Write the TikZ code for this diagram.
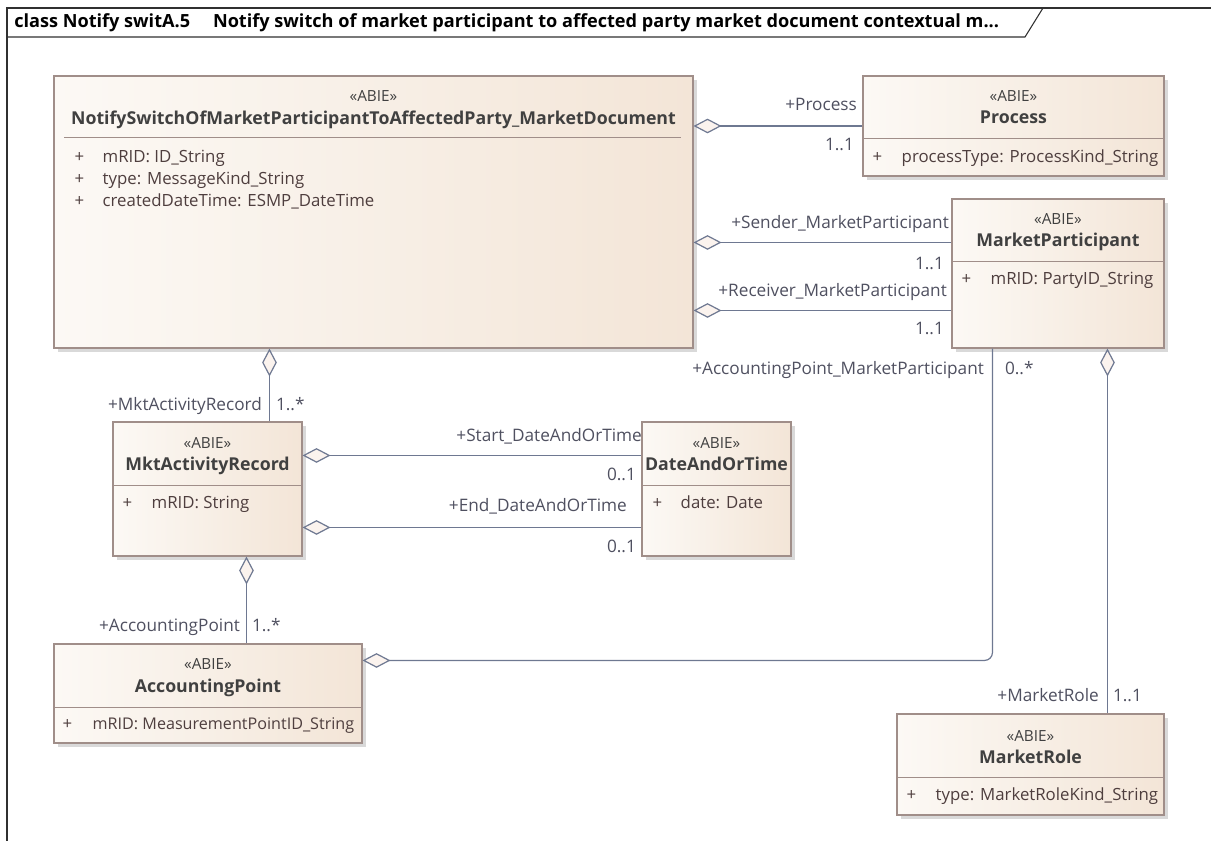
\documentclass[tikz,border=0pt]{standalone}
\usepackage{fontspec}
\setmainfont{Open Sans}
\usepackage{xcolor}
\usepackage{tikz}
\usetikzlibrary{positioning,fit,calc,arrows.meta,shadows}
\definecolor{clsL}{HTML}{FCF9F5}
\definecolor{clsR}{HTML}{F3E5D7}
\definecolor{clsline}{HTML}{A08E89}
\definecolor{linkcol}{HTML}{6E7891}
\definecolor{diafill}{HTML}{FBF3EE}
\definecolor{namecol}{HTML}{404040}
\definecolor{attrcol}{HTML}{4E3E3E}
\definecolor{lblcol}{HTML}{4F5060}
\definecolor{framecol}{HTML}{303030}

\begin{document}
\begin{tikzpicture}[x=0.75pt,y=-0.75pt,
      every node/.style={inner sep=0pt},
      cls/.style={draw=clsline,line width=0.8pt,left color=clsL,right color=clsR,
        drop shadow={shadow xshift=3pt,shadow yshift=-3pt,fill=black!25,opacity=0.6}},
      stereo/.style={anchor=base,font=\fontsize{11.5}{13}\selectfont,text=namecol},
      cname/.style={anchor=base,font=\fontsize{13.3}{15}\selectfont\bfseries,text=namecol},
      attr/.style={anchor=base west,font=\fontsize{12.6}{15}\selectfont,text=attrcol},
      sepline/.style={draw=clsline,line width=0.8pt},
      role/.style={font=\fontsize{12.9}{15}\selectfont,text=lblcol},
      assoc/.style={draw=linkcol,line width=0.9pt,
        {Diamond[length=21pt,width=11pt,fill=diafill]}-},
      frame/.style={draw=framecol,line width=0.8pt},
    ]
  \useasboundingbox (0,0) rectangle (1211,841);

  % diagram frame and header tab
  \draw[frame] (7,845) -- (7,8) -- (1215,8);
  \draw[frame] (7,37) -- (1025,37) -- (1043,8);
  \node[anchor=base west,font=\fontsize{13.6}{15}\selectfont\bfseries,text=black] (hdr) at (14,28)
    {class Notify switA.5\quad\ Notify switch of market participant to affected party market document contextual m...};

  % classes
  \node[cls,fit={(54,76) (693,348)}] (main) {};
  \node[stereo] (mainS) at ($(main.north)+(0,26)$) {«ABIE»};
  \node[cname] (mainN) at ($(main.north)+(0,49)$) {NotifySwitchOfMarketParticipantToAffectedParty\_MarketDocument};
  \draw[sepline] ($(main.north west)+(11,62)$) -- ($(main.north east)+(-13,62)$);
  \node[attr] (mainP1) at ($(main.north west)+(21,87)$) {+};
  \node[attr] (mainA1) at ($(main.north west)+(49,87)$) {mRID: ID\_String};
  \node[attr] (mainP2) at ($(main.north west)+(21,109)$) {+};
  \node[attr] (mainA2) at ($(main.north west)+(49,109)$) {type: MessageKind\_String};
  \node[attr] (mainP3) at ($(main.north west)+(21,131)$) {+};
  \node[attr] (mainA3) at ($(main.north west)+(49,131)$) {createdDateTime: ESMP\_DateTime};

  \node[cls,fit={(863,76) (1164,176)}] (proc) {};
  \node[stereo] (procS) at ($(proc.north)+(0,26)$) {«ABIE»};
  \node[cname] (procN) at ($(proc.north)+(0,48)$) {Process};
  \draw[sepline] ($(proc.north west)+(0,63)$) -- ($(proc.north east)+(0,63)$);
  \node[attr] (procP1) at ($(proc.north west)+(10,87)$) {+};
  \node[attr] (procA1) at ($(proc.north west)+(39,87)$) {processType: ProcessKind\_String};

  \node[cls,fit={(952,199) (1164,348)}] (mp) {};
  \node[stereo] (mpS) at ($(mp.north)+(0,26)$) {«ABIE»};
  \node[cname] (mpN) at ($(mp.north)+(0,48)$) {MarketParticipant};
  \draw[sepline] ($(mp.north west)+(0,63)$) -- ($(mp.north east)+(0,63)$);
  \node[attr] (mpP1) at ($(mp.north west)+(10,86)$) {+};
  \node[attr] (mpA1) at ($(mp.north west)+(39,86)$) {mRID: PartyID\_String};

  \node[cls,fit={(113,422) (302,556)}] (mar) {};
  \node[stereo] (marS) at ($(mar.north)+(0,27)$) {«ABIE»};
  \node[cname] (marN) at ($(mar.north)+(0,49)$) {MktActivityRecord};
  \draw[sepline] ($(mar.north west)+(0,64)$) -- ($(mar.north east)+(0,64)$);
  \node[attr] (marP1) at ($(mar.north west)+(10,87)$) {+};
  \node[attr] (marA1) at ($(mar.north west)+(39,87)$) {mRID: String};

  \node[cls,fit={(642,422) (791,556)}] (dt) {};
  \node[stereo] (dtS) at ($(dt.north)+(0,27)$) {«ABIE»};
  \node[cname] (dtN) at ($(dt.north)+(0,49)$) {DateAndOrTime};
  \draw[sepline] ($(dt.north west)+(0,64)$) -- ($(dt.north east)+(0,64)$);
  \node[attr] (dtP1) at ($(dt.north west)+(11,87)$) {+};
  \node[attr] (dtA1) at ($(dt.north west)+(39,87)$) {date: Date};

  \node[cls,fit={(54,644) (362,743)}] (ap) {};
  \node[stereo] (apS) at ($(ap.north)+(0,26)$) {«ABIE»};
  \node[cname] (apN) at ($(ap.north)+(0,49)$) {AccountingPoint};
  \draw[sepline] ($(ap.north west)+(0,64)$) -- ($(ap.north east)+(0,64)$);
  \node[attr] (apP1) at ($(ap.north west)+(9,86)$) {+};
  \node[attr,font=\fontsize{12.1}{15}\selectfont] (apA1) at ($(ap.north west)+(39,86)$) {mRID: MeasurementPointID\_String};

  \node[cls,fit={(897,714) (1164,815)}] (mr) {};
  \node[stereo] (mrS) at ($(mr.north)+(0,28)$) {«ABIE»};
  \node[cname] (mrN) at ($(mr.north)+(0,50)$) {MarketRole};
  \draw[sepline] ($(mr.north west)+(0,64)$) -- ($(mr.north east)+(0,64)$);
  \node[attr] (mrP1) at ($(mr.north west)+(10,87)$) {+};
  \node[attr] (mrA1) at ($(mr.north west)+(39,87)$) {type: MarketRoleKind\_String};

  % aggregations, diamond on the owning class
  \draw[assoc] (main.east |- proc.west) -- (proc.west)
    node (lProc) [role,pos=1,anchor=base east,shift={(-5,-15)}] {+Process}
    node (mProc) [role,pos=1,anchor=base east,shift={(-8,25)}] {1..1};
  \draw[assoc] ($(main.east |- mp.north)+(0,44)$) -- ($(mp.north west)+(0,44)$)
    node (lSnd) [role,pos=1,anchor=base east,shift={(-2,-14)}] {+Sender\_MarketParticipant}
    node (mSnd) [role,pos=1,anchor=base east,shift={(-7,27)}] {1..1};
  \draw[assoc] ($(main.east |- mp.north)+(0,112)$) -- ($(mp.north west)+(0,112)$)
    node (lRcv) [role,pos=1,anchor=base east,shift={(-4,-14)}] {+Receiver\_MarketParticipant}
    node (mRcv) [role,pos=1,anchor=base east,shift={(-7,24)}] {1..1};
  \draw[assoc] ($(main.south west)+(216,0)$) -- ($(mar.north west)+(157,0)$)
    node (lMar) [role,pos=1,anchor=base east,shift={(-7,-11)}] {+MktActivityRecord}
    node (mMar) [role,pos=1,anchor=base west,shift={(6,-11)}] {1..*};
  \draw[assoc] ($(mar.north east)+(0,34)$) -- ($(dt.north west)+(0,34)$)
    node (lStart) [role,pos=1,anchor=base east,shift={(1,-14)}] {+Start\_DateAndOrTime}
    node (mStart) [role,pos=1,anchor=base east,shift={(-5,25)}] {0..1};
  \draw[assoc] ($(mar.north east)+(0,106)$) -- ($(dt.north west)+(0,106)$)
    node (lEnd) [role,pos=1,anchor=base east,shift={(-14,-16)}] {+End\_DateAndOrTime}
    node (mEnd) [role,pos=1,anchor=base east,shift={(-5,25)}] {0..1};
  \draw[assoc] ($(mar.south west)+(134,0)$) -- ($(ap.north west)+(193,0)$)
    node (lAp) [role,pos=1,anchor=base east,shift={(-6,-12)}] {+AccountingPoint}
    node (mAp) [role,pos=1,anchor=base west,shift={(5,-12)}] {1..*};
  \draw[assoc,rounded corners=6pt] ($(ap.north east)+(0,17)$) -| ($(mp.south west)+(41,0)$)
    node (lApMp) [role,pos=1,anchor=base east,shift={(-8,26)}] {+AccountingPoint\_MarketParticipant}
    node (mApMp) [role,pos=1,anchor=base west,shift={(12,26)}] {0..*};
  \draw[assoc] ($(mp.south west)+(156,0)$) -- ($(mr.north west)+(211,0)$)
    node (lMr) [role,pos=1,anchor=base east,shift={(-8,-12)}] {+MarketRole}
    node (mMr) [role,pos=1,anchor=base west,shift={(5,-12)}] {1..1};
\end{tikzpicture}
\end{document}
